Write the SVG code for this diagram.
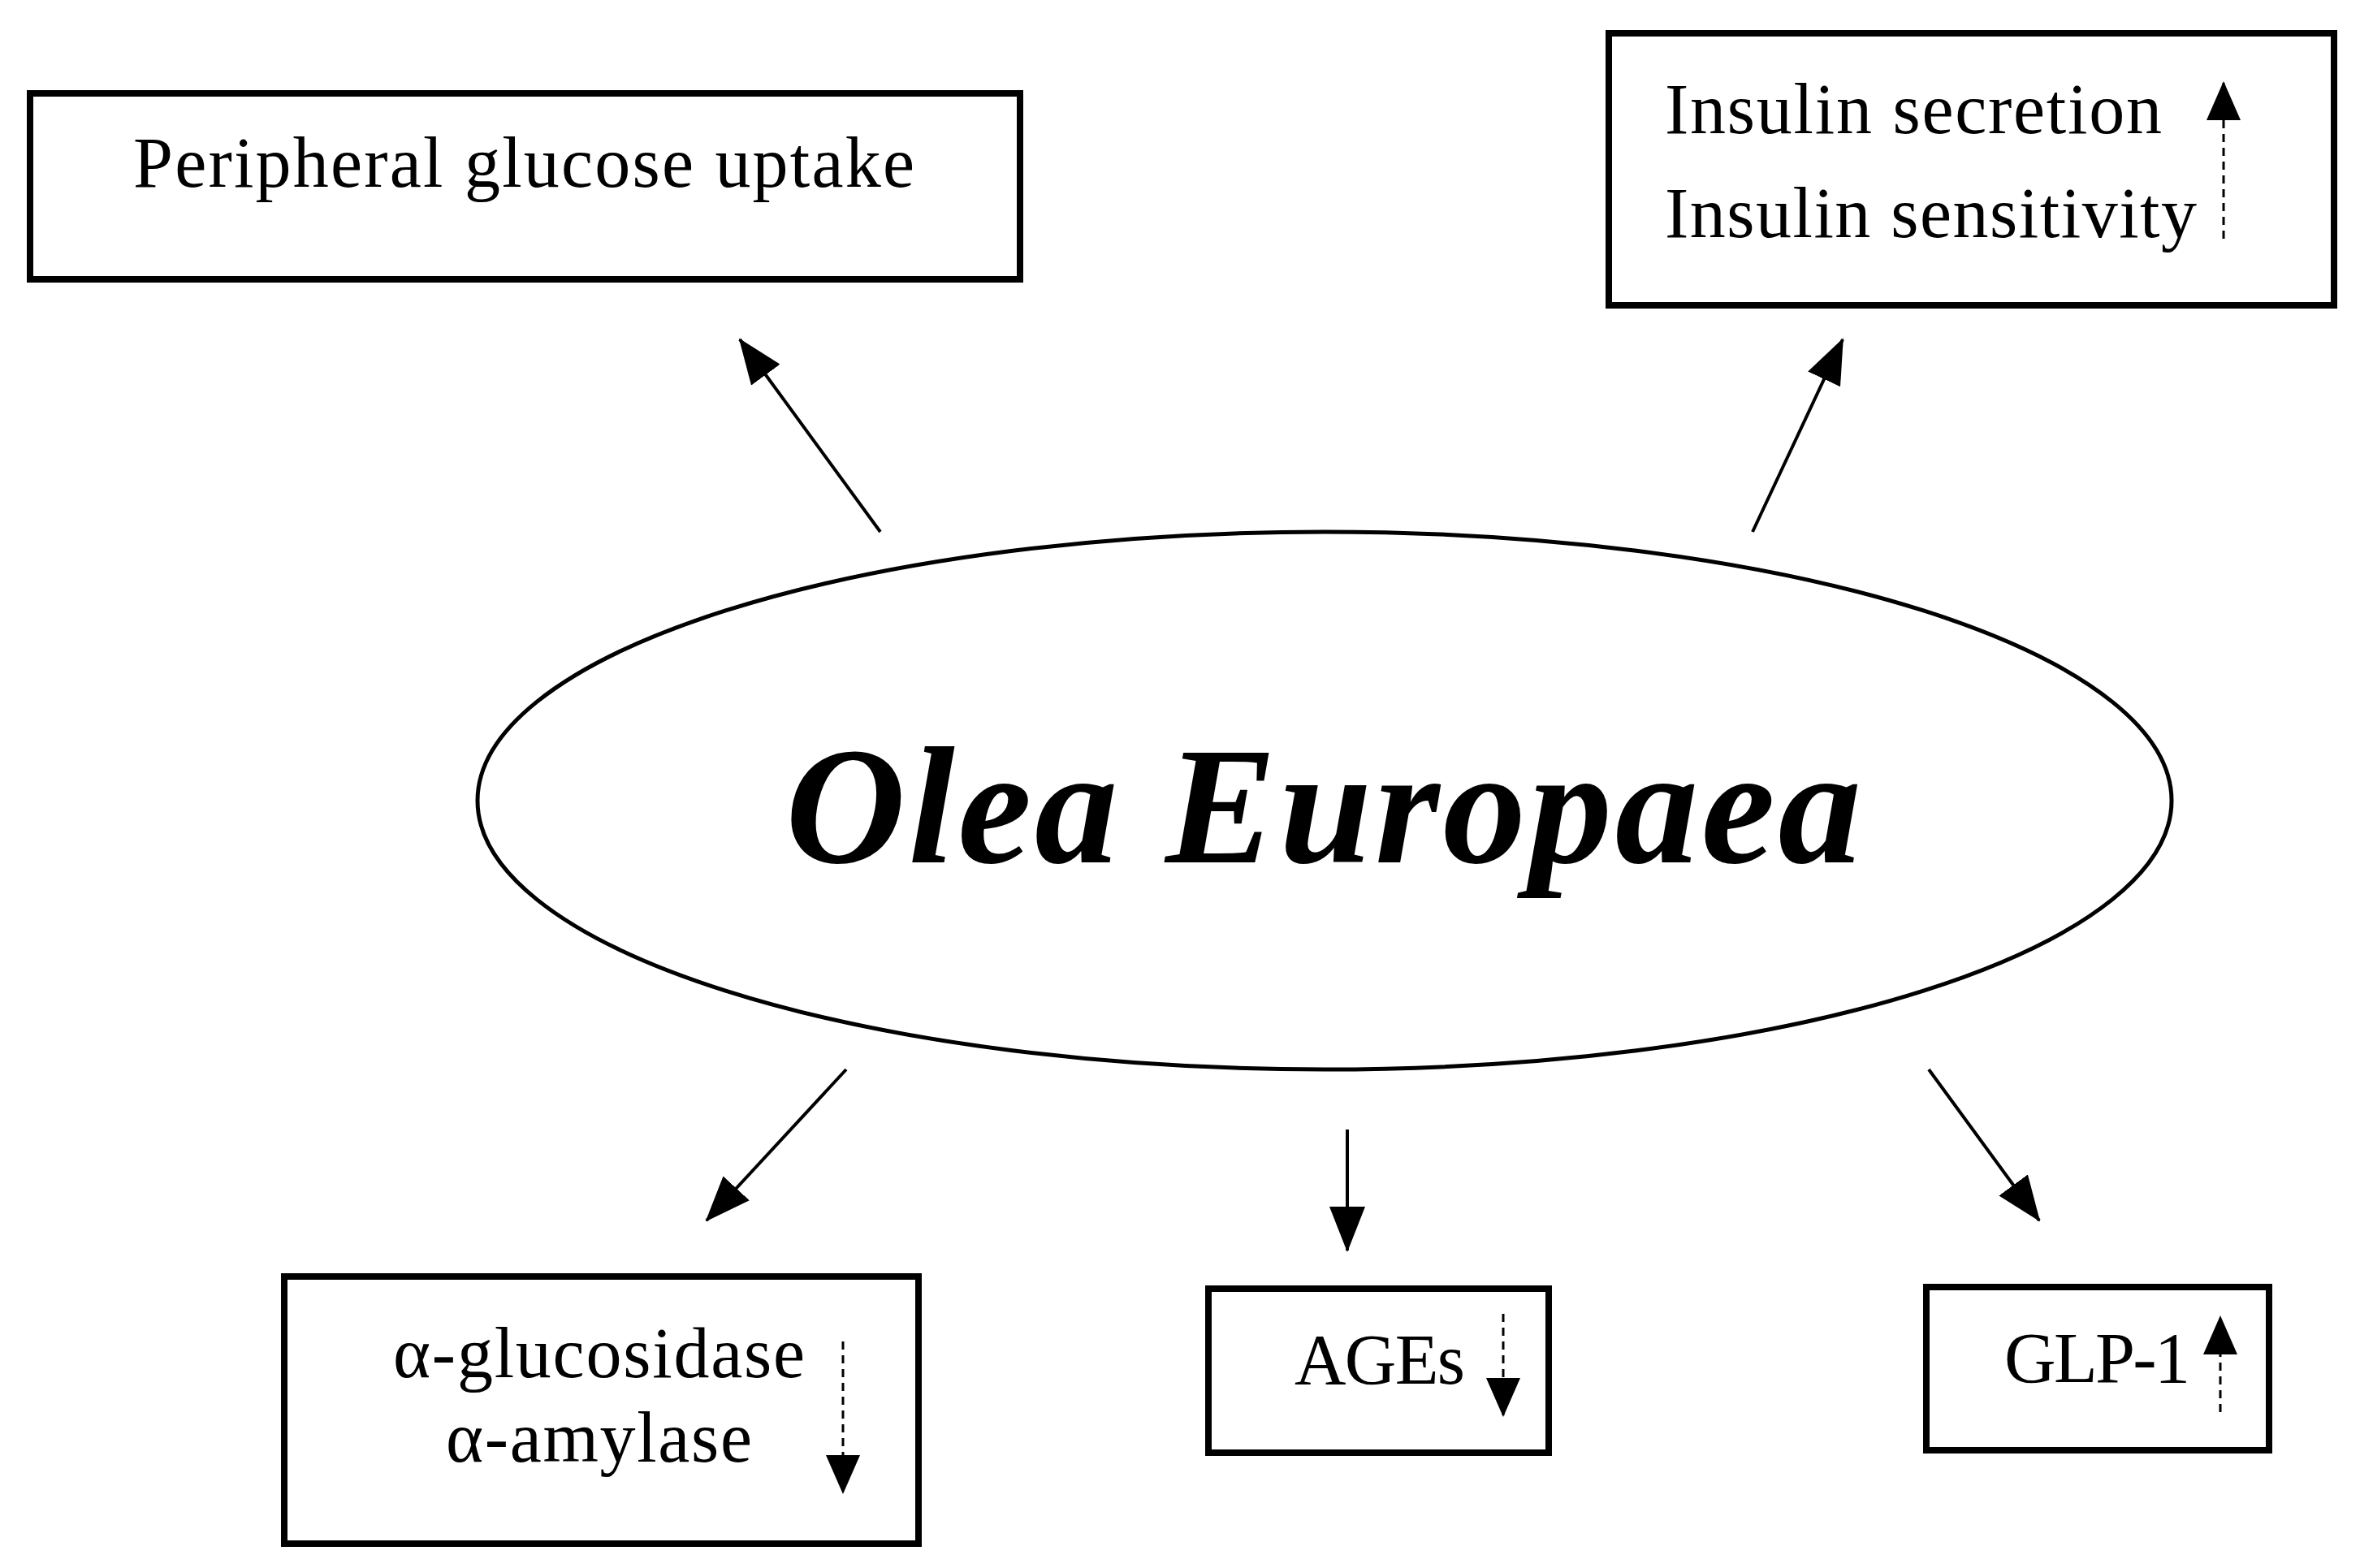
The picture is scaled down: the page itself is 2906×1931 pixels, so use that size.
<svg xmlns="http://www.w3.org/2000/svg" width="2906" height="1931" viewBox="0 0 2906 1931">
<style>
.box{fill:#fff;stroke:#000;stroke-width:8}
.t{font-family:"Liberation Serif",serif;font-size:88px;fill:#000}
.a{stroke:#000;stroke-width:4;fill:none}
.d{stroke:#000;stroke-width:3;fill:none;stroke-dasharray:10 7}
</style>
<defs>
<marker id="h" markerWidth="56" markerHeight="44" refX="54" refY="22" orient="auto" markerUnits="userSpaceOnUse"><path d="M0,0 L56,22 L0,44 z" fill="#000"/></marker>
<marker id="s" markerWidth="48" markerHeight="42" refX="46" refY="21" orient="auto" markerUnits="userSpaceOnUse"><path d="M0,0 L48,21 L0,42 z" fill="#000"/></marker>
</defs>
<rect width="2906" height="1931" fill="#fff"/>
<g id="n1"><rect class="box" x="37" y="115" width="1219" height="229"/><text class="t" x="164" y="230" textLength="962">Peripheral glucose uptake</text></g>
<g id="n2"><rect class="box" x="1981" y="41" width="893" height="335"/><text class="t" x="2050" y="164" textLength="612">Insulin secretion</text><text class="t" x="2050" y="292" textLength="655">Insulin sensitivity</text></g>
<g id="center"><ellipse cx="1631" cy="986" rx="1043" ry="331" fill="#fff" stroke="#000" stroke-width="5"/><text x="967" y="1062" font-family="'Liberation Serif',serif" font-size="205" font-style="italic" font-weight="bold" textLength="1325">Olea Europaea</text></g>
<g id="n3"><rect class="box" x="350" y="1572" width="781" height="329"/><text class="t" x="484" y="1696" textLength="507">α-glucosidase</text><text class="t" x="549" y="1800" textLength="377">α-amylase</text></g>
<g id="n4"><rect class="box" x="1488" y="1587" width="419" height="202"/><text class="t" x="1594" y="1704" textLength="210">AGEs</text></g>
<g id="n5"><rect class="box" x="2372" y="1585" width="422" height="201"/><text class="t" x="2468" y="1702" textLength="229">GLP-1</text></g>
<g id="connectors">
<line class="a" x1="1084" y1="655" x2="911" y2="418" marker-end="url(#h)"/>
<line class="a" x1="2158" y1="655" x2="2269" y2="418" marker-end="url(#h)"/>
<line class="a" x1="1042" y1="1317" x2="870" y2="1503" marker-end="url(#h)"/>
<line class="a" x1="1659" y1="1391" x2="1659" y2="1540" marker-end="url(#h)"/>
<line class="a" x1="2375" y1="1317" x2="2511" y2="1503" marker-end="url(#h)"/>
<line class="d" x1="2738" y1="294" x2="2738" y2="102" marker-end="url(#s)"/>
<line class="d" x1="1038" y1="1652" x2="1038" y2="1838" marker-end="url(#s)"/>
<line class="d" x1="1851" y1="1618" x2="1851" y2="1743" marker-end="url(#s)"/>
<line class="d" x1="2734" y1="1739" x2="2734" y2="1622" marker-end="url(#s)"/>
</g>
</svg>
